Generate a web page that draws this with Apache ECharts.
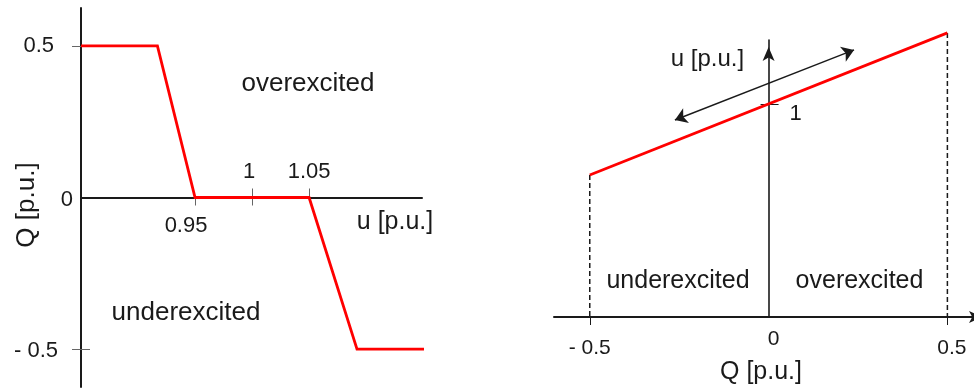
<!DOCTYPE html>
<html>
<head>
<meta charset="utf-8">
<script src="https://cdn.jsdelivr.net/npm/echarts@6/dist/echarts.min.js"></script>
<style>
  html, body { margin: 0; padding: 0; background: #ffffff; }
  #chart { width: 974px; height: 388px; }
</style>
</head>
<body>
<div id="chart"></div>
<script>
// Q(u) characteristic: reactive power set-point versus terminal voltage
const quVoltage  = [0.85, 0.917, 0.95, 1.05, 1.092, 1.158];
const quReactive = [0.5, 0.5, 0, 0, -0.5, -0.5];

// u(Q) characteristic: voltage versus reactive power
const uqReactive = [-0.5, 0.5];
const uqVoltage  = [0.95, 1.05];
const uqFloor    = 0.85;

// double-headed arrow drawn parallel to the u(Q) line
const arrowReactive = [-0.262, 0.239];
const arrowVoltage  = [0.9887, 1.038];

// tick labels
const leftQTicks       = [-0.5, 0, 0.5];
const leftQTickText    = ['- 0.5', '0', '0.5'];
const leftUTicksBelow  = [0.95];
const leftUTextBelow   = ['0.95'];
const leftUTicksAbove  = [1, 1.05];
const leftUTextAbove   = ['1', '1.05'];
const rightQTicks      = [-0.5, 0, 0.5];
const rightQTickText   = ['- 0.5', '0', '0.5'];
const rightUTicks      = [1];
const rightUTickText   = ['1'];

// region and axis captions
const captions = {
  leftOver: 'overexcited',
  leftUnder: 'underexcited',
  leftU: 'u [p.u.]',
  rightU: 'u [p.u.]',
  rightUnder: 'underexcited',
  rightOver: 'overexcited',
  axisQ: 'Q [p.u.]'
};

const FONT = "'Liberation Sans', Arial, Helvetica, sans-serif";
const INK = '#1a1a1a';
const RED = '#ff0000';

// plot areas
const LEFT  = { left: 81, top: 8, width: 341, height: 379, qMin: -0.625, qMax: 0.625, uMin: 0.85, uMax: 1.149 };
const RIGHT = { left: 554, top: 40, width: 422, height: 277, qMin: -0.6, qMax: 0.58, uMin: 0.85, uMax: 1.045 };
// crossing axes are shifted into the plot area so they pass through zero
const leftZeroShift  = -LEFT.height * (LEFT.qMax / (LEFT.qMax - LEFT.qMin));
const rightZeroShift = -RIGHT.width * (-RIGHT.qMin / (RIGHT.qMax - RIGHT.qMin));

const zip = (a, b) => a.map((v, i) => [v, b[i]]);

// returns a formatter that maps a tick value to its rich-text label
function labeler(ticks, texts, key) {
  return function (v) {
    const i = ticks.findIndex(t => Math.abs(t - v) < 1e-9);
    return i < 0 ? '' : '{' + key + i + '|' + texts[i] + '}';
  };
}
function richStyle(size, padding) {
  return { fontSize: size, fontFamily: FONT, color: INK, padding: padding };
}

const chart = echarts.init(document.getElementById('chart'), null, { renderer: 'canvas' });

chart.setOption({
  animation: false,
  backgroundColor: '#ffffff',
  grid: [
    { left: LEFT.left, top: LEFT.top, width: LEFT.width, height: LEFT.height, containLabel: false, outerBoundsMode: 'none' },
    { left: RIGHT.left, top: RIGHT.top, width: RIGHT.width, height: RIGHT.height, containLabel: false, outerBoundsMode: 'none' }
  ],
  xAxis: [
    // left panel, labels below the axis
    {
      gridIndex: 0, type: 'value', position: 'bottom', offset: leftZeroShift,
      min: LEFT.uMin, max: LEFT.uMax,
      axisLine: { onZero: false, lineStyle: { color: INK, width: 2 } },
      axisTick: { show: true, length: 8, customValues: [0.95, 1], lineStyle: { color: '#666', width: 1 } },
      axisLabel: {
        margin: 17, fontSize: 22, fontFamily: FONT, color: INK,
        customValues: leftUTicksBelow,
        formatter: labeler(leftUTicksBelow, leftUTextBelow, 'b'),
        rich: { b0: richStyle(22, [0, 18, 0, 0]) }
      },
      splitLine: { show: false }
    },
    // left panel, labels above the axis
    {
      gridIndex: 0, type: 'value', position: 'top', offset: leftZeroShift,
      min: LEFT.uMin, max: LEFT.uMax,
      axisLine: { show: false, onZero: false },
      axisTick: { show: true, length: 9, customValues: [1, 1.05], lineStyle: { color: '#666', width: 1 } },
      axisLabel: {
        margin: 15, fontSize: 22, fontFamily: FONT, color: INK,
        customValues: leftUTicksAbove,
        formatter: labeler(leftUTicksAbove, leftUTextAbove, 'a'),
        rich: { a0: richStyle(22, [0, 6, 0, 0]), a1: richStyle(22, [0, 0, 0, 0]) }
      },
      splitLine: { show: false }
    },
    // right panel, reactive power
    {
      gridIndex: 1, type: 'value', position: 'bottom', min: RIGHT.qMin, max: RIGHT.qMax,
      axisLine: {
        onZero: false, symbol: ['none', 'arrow'], symbolSize: [9, 13], symbolOffset: [0, 6],
        lineStyle: { color: INK, width: 2 }
      },
      axisTick: { show: true, length: 8, customValues: [-0.5, 0.5], lineStyle: { color: INK, width: 1 } },
      axisLabel: {
        margin: 12, fontSize: 21, fontFamily: FONT, color: INK,
        customValues: rightQTicks,
        formatter: labeler(rightQTicks, rightQTickText, 'c'),
        rich: {
          c0: richStyle(21, [9, 0, 0, 0]),
          c1: richStyle(21, [0, 0, 0, 10]),
          c2: richStyle(21, [9, 0, 0, 9])
        }
      },
      splitLine: { show: false },
      name: captions.axisQ, nameLocation: 'middle', nameGap: 43, nameMoveOverlap: false,
      nameTextStyle: { fontSize: 25, fontFamily: FONT, color: INK, padding: [0, 8, 0, 0] }
    }
  ],
  yAxis: [
    // left panel, reactive power
    {
      gridIndex: 0, type: 'value', position: 'left', min: LEFT.qMin, max: LEFT.qMax,
      axisLine: { show: true, onZero: false, lineStyle: { color: INK, width: 2 } },
      axisTick: { show: true, length: 9, customValues: [0.5, -0.5], lineStyle: { color: '#666', width: 1 } },
      axisLabel: {
        margin: 8, fontSize: 22, fontFamily: FONT, color: INK,
        customValues: leftQTicks,
        formatter: labeler(leftQTicks, leftQTickText, 'q'),
        rich: {
          q0: richStyle(22, [4, 15, 0, 0]),
          q1: richStyle(22, [5, 0, 0, 0]),
          q2: richStyle(22, [0, 19, 0, 0])
        }
      },
      splitLine: { show: false },
      name: captions.axisQ, nameLocation: 'middle', nameRotate: 90, nameGap: 41, nameMoveOverlap: false,
      nameTextStyle: { fontSize: 26, fontFamily: FONT, color: INK, padding: [0, 15, 0, 0] }
    },
    // left panel, inner half of the lower tick
    {
      gridIndex: 0, type: 'value', position: 'left', min: LEFT.qMin, max: LEFT.qMax,
      axisLine: { show: false, onZero: false },
      axisTick: { show: true, inside: true, length: 9, customValues: [-0.5], lineStyle: { color: '#666', width: 1 } },
      axisLabel: { show: false },
      splitLine: { show: false }
    },
    // right panel, voltage
    {
      gridIndex: 1, type: 'value', position: 'left', offset: rightZeroShift,
      min: RIGHT.uMin, max: RIGHT.uMax,
      axisLine: {
        show: true, onZero: false,
        symbol: ['none', 'arrow'], symbolSize: [9, 14], symbolOffset: [0, -7],
        lineStyle: { color: INK, width: 1.6 }
      },
      axisTick: { show: true, length: 8, customValues: [1], lineStyle: { color: INK, width: 1 } },
      axisLabel: { show: false },
      splitLine: { show: false }
    },
    // right panel, inner half of the unit tick and its label
    {
      gridIndex: 1, type: 'value', position: 'left', offset: rightZeroShift,
      min: RIGHT.uMin, max: RIGHT.uMax,
      axisLine: { show: false, onZero: false },
      axisTick: { show: true, inside: true, length: 10, customValues: [1], lineStyle: { color: INK, width: 1 } },
      axisLabel: {
        inside: true, margin: 21, fontSize: 22, fontFamily: FONT, color: INK,
        customValues: rightUTicks,
        formatter: labeler(rightUTicks, rightUTickText, 'd'),
        rich: { d0: richStyle(22, [21, 0, 0, 0]) }
      },
      splitLine: { show: false }
    }
  ],
  series: [
    {
      name: 'Q(u)', type: 'line', xAxisIndex: 0, yAxisIndex: 0,
      data: zip(quVoltage, quReactive),
      showSymbol: false, clip: false, z: 5,
      lineStyle: { color: RED, width: 2.8, join: 'miter' }
    },
    {
      name: 'limit Q min', type: 'line', xAxisIndex: 2, yAxisIndex: 2,
      data: [[uqReactive[0], uqVoltage[0]], [uqReactive[0], uqFloor]],
      showSymbol: false, clip: false, z: 3,
      lineStyle: { color: INK, width: 1.5, type: [5, 3] }
    },
    {
      name: 'limit Q max', type: 'line', xAxisIndex: 2, yAxisIndex: 2,
      data: [[uqReactive[1], uqVoltage[1]], [uqReactive[1], uqFloor]],
      showSymbol: false, clip: false, z: 3,
      lineStyle: { color: INK, width: 1.5, type: [5, 3] }
    },
    {
      name: 'u(Q)', type: 'line', xAxisIndex: 2, yAxisIndex: 2,
      data: zip(uqReactive, uqVoltage),
      showSymbol: false, clip: false, z: 5,
      lineStyle: { color: RED, width: 2.8 },
      markLine: {
        silent: true,
        symbol: ['arrow', 'arrow'],
        symbolSize: 12,
        label: { show: false },
        emphasis: { disabled: true },
        lineStyle: { color: INK, width: 1.4, type: 'solid' },
        data: [[
          { coord: [arrowReactive[0], arrowVoltage[0]] },
          { coord: [arrowReactive[1], arrowVoltage[1]] }
        ]]
      }
    }
  ],
  graphic: [
    { type: 'text', x: 308, y: 84, style: { text: captions.leftOver, font: '26px ' + FONT, fill: INK, align: 'center', verticalAlign: 'middle' } },
    { type: 'text', x: 186, y: 312.5, style: { text: captions.leftUnder, font: '26px ' + FONT, fill: INK, align: 'center', verticalAlign: 'middle' } },
    { type: 'text', x: 395, y: 222, style: { text: captions.leftU, font: '25px ' + FONT, fill: INK, align: 'center', verticalAlign: 'middle' } },
    { type: 'text', x: 707.5, y: 59.5, style: { text: captions.rightU, font: '24px ' + FONT, fill: INK, align: 'center', verticalAlign: 'middle' } },
    { type: 'text', x: 678, y: 281.3, style: { text: captions.rightUnder, font: '25px ' + FONT, fill: INK, align: 'center', verticalAlign: 'middle' } },
    { type: 'text', x: 859.5, y: 281.3, style: { text: captions.rightOver, font: '25px ' + FONT, fill: INK, align: 'center', verticalAlign: 'middle' } }
  ]
});
</script>
</body>
</html>
